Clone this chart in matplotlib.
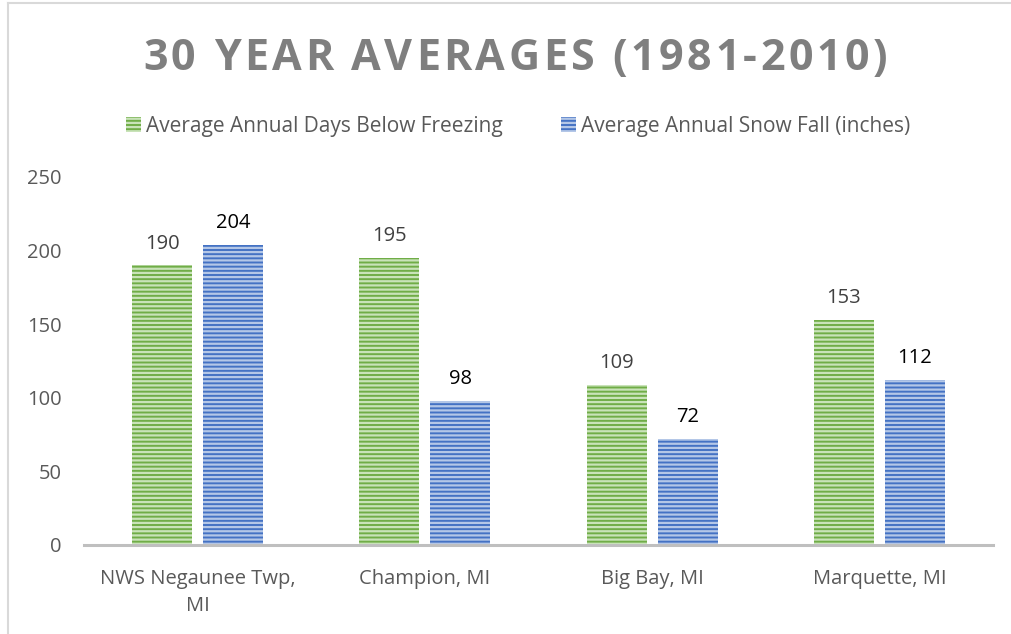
import numpy as np
import matplotlib.pyplot as plt
from matplotlib.patches import Patch
from matplotlib.lines import Line2D

# data
locations = ['NWS Negaunee Twp,\nMI', 'Champion, MI', 'Big Bay, MI', 'Marquette, MI']
days_below_freezing = [190, 195, 109, 153]
snow_fall = [204, 98, 72, 112]
series_names = ['Average Annual Days Below Freezing', 'Average Annual Snow Fall (inches)']
title = '30 YEAR AVERAGES (1981-2010)'

plt.rcParams['font.family'] = ['Open Sans', 'DejaVu Sans']
plt.rcParams['hatch.linewidth'] = 1.6

W, H = 1011, 634
fig = plt.figure(figsize=(W/100, H/100), dpi=100)
ax = fig.add_axes([84/W, 1-545/H, 909/W, (545-177)/H])

x = np.arange(len(locations))
w = 0.264
off = 0.156
green, green_l = '#70AD47', '#C9E3B9'
blue, blue_l = '#4472C4', '#B4C7E7'
b1 = ax.bar(x - off, days_below_freezing, w, color=green, edgecolor=green_l,
            hatch='----', linewidth=0)
b2 = ax.bar(x + off, snow_fall, w, color=blue, edgecolor=blue_l,
            hatch='----', linewidth=0)

# data labels
for rect, v in zip(b1, days_below_freezing):
    ax.annotate(str(v), (rect.get_x() + rect.get_width()/2, v), xytext=(0, 12),
                textcoords='offset points', ha='center', va='baseline',
                fontsize=14.5, color='#404040')
for rect, v in zip(b2, snow_fall):
    ax.annotate(str(v), (rect.get_x() + rect.get_width()/2, v), xytext=(0, 12),
                textcoords='offset points', ha='center', va='baseline',
                fontsize=14.5, color='black')

ax.set_xlim(-0.5, 3.5)
ax.set_ylim(0, 250)
ax.set_yticks([0, 50, 100, 150, 200, 250])
ax.set_xticks(x)
ax.set_xticklabels(locations, fontsize=14.5, color='#595959', linespacing=1.5)
ax.tick_params(axis='y', labelsize=14.5, labelcolor='#595959', length=0, pad=16)
ax.tick_params(axis='x', length=0, pad=17)
for s in ['top', 'right', 'left']:
    ax.spines[s].set_visible(False)
ax.spines['bottom'].set_color('#BFBFBF')
ax.spines['bottom'].set_linewidth(2.2)

# title with letter spacing
tkw = dict(fontsize=31, fontweight='bold', color='#7F7F7F', va='baseline')
renderer = fig.canvas.get_renderer()
def text_w(s):
    t = fig.text(0, 0, s, **tkw)
    wd = t.get_window_extent(renderer).width
    t.remove()
    return wd
space_w = text_w('a a') - text_w('aa')
widths = [space_w if ch == ' ' else text_w(ch) for ch in title]
spacing = 3.5
total = sum(widths) + spacing * (len(title) - 1)
xpos = 515 - total / 2
for ch, wd in zip(title, widths):
    if ch != ' ':
        fig.text(xpos / W, 1 - 70/H, ch, ha='left', **tkw)
    xpos += wd + spacing

handles = [Patch(facecolor=green, edgecolor=green_l, hatch='----', linewidth=0),
           Patch(facecolor=blue, edgecolor=blue_l, hatch='----', linewidth=0)]
fig.legend(handles, series_names, loc='center', bbox_to_anchor=(518/W, 1-126/H),
           ncol=2, frameon=False, fontsize=15, labelcolor='#595959',
           handlelength=0.72, handleheight=0.72, handletextpad=0.25, columnspacing=2.8)

# outer border
fig.add_artist(Line2D([8/W, 1], [1-3/H, 1-3/H], color='#D9D9D9', lw=1.5))
fig.add_artist(Line2D([8/W, 8/W], [0, 1-3/H], color='#D9D9D9', lw=1.5))

fig.savefig('out.png', dpi=100)
